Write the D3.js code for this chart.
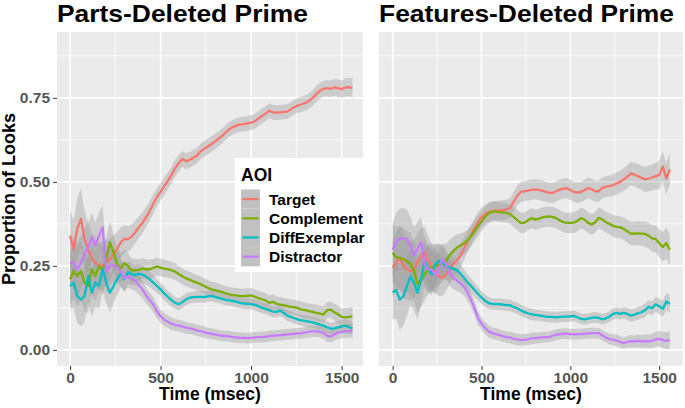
<!DOCTYPE html>
<html><head><meta charset="utf-8">
<script src="https://cdn.jsdelivr.net/npm/d3@7"></script>
<style>
body{margin:0;background:#fff}
svg{display:block;font-family:"Liberation Sans",Arial,Helvetica,sans-serif}
</style>
</head><body>
<svg id="chart" width="685" height="408"></svg>
<script>
// ---------- data ----------
const times = [0,20,40,60,80,100,120,140,160,180,
200,220,240,260,280,300,320,340,360,380,
400,420,440,460,480,500,520,540,560,580,
600,620,640,660,680,700,720,740,760,780,
800,820,840,860,880,900,920,940,960,980,
1000,1020,1040,1060,1080,1100,1120,1140,1160,1180,
1200,1220,1240,1260,1280,1300,1320,1340,1360,1380,
1400,1420,1440,1460,1480,1500,1520,1540,1560];

const aoiNames = ["Target","Complement","DiffExemplar","Distractor"];
const aoiColors = ["#F8766D","#7CAE00","#00BFC4","#C77CFF"];
const panelTitles = ["Parts-Deleted Prime","Features-Deleted Prime"];
const xTickValues = [0,500,1000,1500];
const xMinorValues = [250,750,1250];
const yTickValues = [0,0.25,0.5,0.75];
const yTickLabels = ["0.00","0.25","0.50","0.75"];
const yMinorValues = [0.125,0.375,0.625,0.875];

const partsTarget = [0.34,0.30,0.36,0.39,0.33,0.30,0.27,0.26,0.25,0.25,
0.26,0.27,0.285,0.30,0.32,0.33,0.33,0.337,0.35,0.365,
0.378,0.395,0.413,0.435,0.455,0.47,0.487,0.503,0.52,0.54,
0.555,0.568,0.562,0.565,0.572,0.578,0.59,0.598,0.605,0.612,
0.62,0.628,0.637,0.647,0.657,0.663,0.668,0.671,0.672,0.674,
0.676,0.68,0.688,0.696,0.703,0.712,0.707,0.706,0.707,0.708,
0.709,0.716,0.723,0.728,0.731,0.735,0.741,0.75,0.761,0.771,
0.777,0.779,0.777,0.781,0.779,0.776,0.781,0.782,0.78];
const partsComplement = [0.21,0.235,0.22,0.235,0.20,0.19,0.24,0.22,0.25,0.235,
0.27,0.32,0.29,0.255,0.243,0.258,0.25,0.236,0.237,0.238,
0.242,0.24,0.24,0.244,0.248,0.245,0.242,0.24,0.237,0.233,
0.226,0.219,0.213,0.209,0.204,0.2,0.196,0.19,0.185,0.18,
0.178,0.175,0.172,0.168,0.165,0.163,0.162,0.16,0.16,0.161,
0.162,0.158,0.154,0.15,0.147,0.14,0.143,0.137,0.135,0.133,
0.13,0.128,0.127,0.124,0.12,0.118,0.115,0.113,0.11,0.108,
0.105,0.118,0.12,0.112,0.106,0.098,0.097,0.098,0.1];
const partsDiffExemplar = [0.19,0.20,0.16,0.15,0.16,0.22,0.17,0.20,0.19,0.24,
0.20,0.17,0.19,0.21,0.228,0.21,0.232,0.225,0.222,0.227,
0.224,0.218,0.21,0.20,0.19,0.18,0.168,0.158,0.148,0.14,
0.136,0.142,0.15,0.155,0.157,0.158,0.158,0.157,0.159,0.161,
0.158,0.155,0.152,0.149,0.147,0.146,0.143,0.14,0.138,0.137,
0.136,0.134,0.13,0.125,0.122,0.118,0.114,0.113,0.117,0.11,
0.102,0.098,0.094,0.09,0.088,0.086,0.084,0.082,0.079,0.075,
0.072,0.067,0.063,0.064,0.067,0.07,0.072,0.068,0.064];
const partsDistractor = [0.26,0.26,0.238,0.26,0.285,0.305,0.335,0.31,0.34,0.365,
0.23,0.25,0.252,0.248,0.232,0.212,0.22,0.212,0.205,0.193,
0.18,0.162,0.148,0.135,0.115,0.10,0.09,0.084,0.078,0.074,
0.072,0.07,0.066,0.064,0.062,0.058,0.056,0.053,0.05,0.048,
0.046,0.044,0.042,0.041,0.04,0.038,0.037,0.036,0.036,0.035,
0.036,0.037,0.038,0.038,0.039,0.041,0.042,0.043,0.044,0.045,
0.046,0.047,0.048,0.049,0.05,0.052,0.054,0.055,0.055,0.054,
0.05,0.042,0.04,0.046,0.051,0.053,0.055,0.056,0.057];

const featTarget = [0.245,0.26,0.275,0.25,0.24,0.235,0.24,0.262,0.28,0.29,
0.265,0.245,0.235,0.22,0.215,0.225,0.24,0.255,0.265,0.28,
0.30,0.322,0.342,0.362,0.38,0.395,0.404,0.41,0.413,0.414,
0.415,0.416,0.418,0.422,0.44,0.458,0.47,0.472,0.474,0.476,
0.478,0.476,0.474,0.47,0.468,0.467,0.472,0.477,0.48,0.481,
0.476,0.47,0.468,0.47,0.476,0.482,0.478,0.472,0.472,0.482,
0.486,0.487,0.49,0.495,0.50,0.507,0.515,0.525,0.522,0.517,
0.512,0.507,0.51,0.513,0.517,0.52,0.546,0.51,0.538];
const featComplement = [0.288,0.276,0.273,0.27,0.263,0.256,0.235,0.195,0.21,0.225,
0.24,0.246,0.25,0.253,0.258,0.265,0.281,0.294,0.304,0.31,
0.317,0.325,0.337,0.353,0.368,0.382,0.396,0.406,0.411,0.412,
0.41,0.409,0.408,0.404,0.396,0.387,0.378,0.378,0.385,0.392,
0.388,0.39,0.394,0.396,0.397,0.396,0.392,0.386,0.38,0.378,
0.378,0.379,0.384,0.392,0.388,0.378,0.373,0.38,0.393,0.388,
0.38,0.375,0.369,0.366,0.365,0.36,0.353,0.346,0.346,0.347,
0.346,0.345,0.34,0.332,0.33,0.318,0.306,0.318,0.298];
const featDiffExemplar = [0.171,0.178,0.15,0.16,0.19,0.218,0.20,0.17,0.21,0.265,
0.24,0.225,0.255,0.265,0.258,0.25,0.245,0.242,0.238,0.228,
0.215,0.202,0.191,0.179,0.167,0.156,0.146,0.139,0.137,0.136,
0.136,0.135,0.133,0.133,0.128,0.124,0.118,0.113,0.109,0.106,
0.104,0.103,0.101,0.099,0.098,0.098,0.097,0.098,0.099,0.099,
0.10,0.101,0.097,0.092,0.091,0.093,0.095,0.097,0.095,0.091,
0.094,0.099,0.107,0.11,0.107,0.11,0.107,0.102,0.105,0.109,
0.112,0.118,0.128,0.124,0.136,0.13,0.122,0.144,0.137];
const featDistractor = [0.298,0.322,0.33,0.332,0.33,0.31,0.282,0.30,0.32,0.255,
0.238,0.24,0.222,0.24,0.27,0.255,0.23,0.215,0.207,0.198,
0.188,0.172,0.15,0.125,0.095,0.078,0.065,0.055,0.05,0.047,
0.044,0.041,0.038,0.037,0.033,0.031,0.03,0.03,0.031,0.034,
0.035,0.036,0.037,0.038,0.038,0.042,0.045,0.047,0.048,0.048,
0.047,0.046,0.047,0.047,0.048,0.049,0.05,0.05,0.05,0.043,
0.037,0.032,0.03,0.028,0.024,0.02,0.024,0.026,0.025,0.027,
0.025,0.026,0.025,0.027,0.031,0.033,0.03,0.027,0.03];

// confidence half-widths (Target/Complement share A, DiffExemplar/Distractor share B)
const partsCiA = [0.075,0.085,0.09,0.09,0.085,0.08,0.078,0.075,0.072,0.07,
0.066,0.062,0.056,0.05,0.045,0.041,0.038,0.036,0.034,0.032,
0.031,0.03,0.029,0.028,0.027,0.026,0.026,0.025,0.025,0.025,
0.024,0.024,0.024,0.024,0.023,0.023,0.023,0.023,0.023,0.023,
0.023,0.022,0.022,0.022,0.022,0.022,0.022,0.022,0.022,0.022,
0.022,0.022,0.022,0.022,0.022,0.022,0.022,0.022,0.022,0.022,
0.022,0.022,0.022,0.022,0.023,0.023,0.023,0.023,0.024,0.024,
0.024,0.024,0.025,0.025,0.026,0.026,0.027,0.027,0.028];
const partsCiB = [0.07,0.075,0.08,0.08,0.078,0.075,0.072,0.07,0.068,0.066,
0.062,0.058,0.052,0.047,0.042,0.038,0.035,0.032,0.03,0.028,
0.026,0.024,0.023,0.022,0.021,0.02,0.02,0.019,0.019,0.018,
0.018,0.018,0.018,0.017,0.017,0.017,0.017,0.017,0.016,0.016,
0.016,0.016,0.016,0.016,0.016,0.016,0.016,0.016,0.016,0.016,
0.016,0.016,0.016,0.016,0.016,0.016,0.016,0.016,0.016,0.016,
0.016,0.016,0.016,0.016,0.016,0.017,0.017,0.017,0.017,0.017,
0.018,0.018,0.018,0.019,0.019,0.019,0.02,0.02,0.02];
const featCiA = [0.085,0.09,0.095,0.095,0.09,0.09,0.088,0.085,0.082,0.078,
0.074,0.07,0.065,0.06,0.055,0.05,0.046,0.042,0.039,0.036,
0.034,0.032,0.031,0.03,0.03,0.029,0.029,0.029,0.029,0.029,
0.029,0.029,0.029,0.029,0.03,0.03,0.03,0.03,0.03,0.03,
0.03,0.03,0.03,0.03,0.03,0.03,0.03,0.03,0.03,0.03,
0.03,0.031,0.031,0.031,0.031,0.031,0.031,0.031,0.031,0.031,
0.031,0.032,0.032,0.033,0.033,0.034,0.034,0.035,0.035,0.036,
0.036,0.037,0.038,0.039,0.04,0.042,0.044,0.046,0.048];
const featCiB = [0.08,0.085,0.09,0.09,0.088,0.085,0.082,0.08,0.076,0.072,
0.068,0.063,0.058,0.052,0.047,0.042,0.038,0.034,0.031,0.028,
0.026,0.024,0.022,0.021,0.02,0.019,0.018,0.018,0.017,0.017,
0.017,0.017,0.017,0.017,0.017,0.017,0.017,0.017,0.017,0.017,
0.017,0.016,0.016,0.016,0.016,0.016,0.016,0.016,0.016,0.016,
0.016,0.016,0.016,0.016,0.016,0.016,0.016,0.016,0.016,0.016,
0.016,0.016,0.017,0.017,0.017,0.017,0.018,0.018,0.018,0.019,
0.019,0.02,0.02,0.021,0.022,0.023,0.024,0.025,0.027];

// ---------- drawing ----------
const svg = d3.select("#chart");
const panelTop = 32, panelBottom = 366;
const y = d3.scaleLinear().domain([-0.048, 0.946]).range([panelBottom, panelTop]);
const ribbonFill = "#999999", ribbonOpacity = 0.38;

const panels = [
  {title: panelTitles[0], left: 57, right: 363, domain: [-72, 1618], showY: true, titleW: 251,
   series: [partsTarget, partsComplement, partsDiffExemplar, partsDistractor],
   ci: [partsCiA, partsCiA, partsCiB, partsCiB]},
  {title: panelTitles[1], left: 379, right: 683, domain: [-77, 1634], showY: false, titleW: 295,
   series: [featTarget, featComplement, featDiffExemplar, featDistractor],
   ci: [featCiA, featCiA, featCiB, featCiB]}
];

panels.forEach(p => {
  const x = d3.scaleLinear().domain(p.domain).range([p.left, p.right]);
  const g = svg.append("g");
  g.append("rect").attr("x", p.left).attr("y", panelTop)
    .attr("width", p.right - p.left).attr("height", panelBottom - panelTop).attr("fill", "#EBEBEB");

  // grid
  g.selectAll(".vmin").data(xMinorValues).enter().append("line")
    .attr("x1", d => x(d)).attr("x2", d => x(d)).attr("y1", panelTop).attr("y2", panelBottom)
    .attr("stroke", "#fff").attr("stroke-width", 0.8);
  g.selectAll(".hmin").data(yMinorValues).enter().append("line")
    .attr("x1", p.left).attr("x2", p.right).attr("y1", d => y(d)).attr("y2", d => y(d))
    .attr("stroke", "#fff").attr("stroke-width", 0.8);
  g.selectAll(".vmaj").data(xTickValues).enter().append("line")
    .attr("x1", d => x(d)).attr("x2", d => x(d)).attr("y1", panelTop).attr("y2", panelBottom)
    .attr("stroke", "#fff").attr("stroke-width", 1.6);
  g.selectAll(".hmaj").data(yTickValues).enter().append("line")
    .attr("x1", p.left).attr("x2", p.right).attr("y1", d => y(d)).attr("y2", d => y(d))
    .attr("stroke", "#fff").attr("stroke-width", 1.6);

  // ribbons
  p.series.forEach((vals, i) => {
    const area = d3.area()
      .x((d, j) => x(times[j]))
      .y0((d, j) => y(vals[j] - p.ci[i][j]))
      .y1((d, j) => y(vals[j] + p.ci[i][j]));
    g.append("path").datum(vals).attr("d", area)
      .attr("fill", ribbonFill).attr("fill-opacity", ribbonOpacity);
  });
  // lines
  p.series.forEach((vals, i) => {
    const line = d3.line().x((d, j) => x(times[j])).y(d => y(d));
    g.append("path").datum(vals).attr("d", line)
      .attr("fill", "none").attr("stroke", aoiColors[i]).attr("stroke-width", 2.3)
      .attr("stroke-linejoin", "round");
  });

  // x axis
  const xAxis = d3.axisBottom(x).tickValues(xTickValues).tickSize(4).tickPadding(2)
    .tickFormat(d3.format("d"));
  const xg = g.append("g").attr("transform", `translate(0,${panelBottom})`).call(xAxis);
  xg.select(".domain").remove();
  xg.selectAll("line").attr("stroke", "#333").attr("stroke-width", 1);
  xg.selectAll("text").attr("fill", "#555").attr("font-size", 15.5).attr("font-weight", "bold")
    .attr("font-family", "Liberation Sans, Arial, sans-serif");

  if (p.showY) {
    const yAxis = d3.axisLeft(y).tickValues(yTickValues).tickSize(4).tickPadding(3)
      .tickFormat((d, i) => yTickLabels[i]);
    const yg = g.append("g").attr("transform", `translate(${p.left},0)`).call(yAxis);
    yg.select(".domain").remove();
    yg.selectAll("line").attr("stroke", "#333").attr("stroke-width", 1);
    yg.selectAll("text").attr("fill", "#555").attr("font-size", 15.5).attr("font-weight", "bold")
      .attr("font-family", "Liberation Sans, Arial, sans-serif");
  }

  // x title
  g.append("text").attr("x", (p.left + p.right) / 2).attr("y", 400)
    .attr("text-anchor", "middle").attr("font-size", 17.5).attr("font-weight", "bold")
    .attr("fill", "#000").text("Time (msec)");

  // panel title
  g.append("text").attr("x", p.left).attr("y", 21.5).attr("font-size", 24.5).attr("font-weight", "bold")
    .attr("fill", "#000").text(p.title)
    .attr("textLength", p.titleW).attr("lengthAdjust", "spacingAndGlyphs");
});

// y title
svg.append("text").attr("transform", "translate(15,199) rotate(-90)")
  .attr("text-anchor", "middle").attr("font-size", 18).attr("font-weight", "bold")
  .attr("fill", "#000").text("Proportion of Looks");

// legend
const lg = svg.append("g");
lg.append("rect").attr("x", 235).attr("y", 158).attr("width", 129).attr("height", 114).attr("fill", "#fff");
lg.append("text").attr("x", 241).attr("y", 180.5).attr("font-size", 17.5).attr("font-weight", "bold")
  .attr("fill", "#000").text("AOI");
const keyH = 19.2, keyTop = 189.5;
aoiNames.forEach((name, i) => {
  const ky = keyTop + i * keyH;
  lg.append("rect").attr("x", 241).attr("y", ky).attr("width", 19).attr("height", keyH).attr("fill", "#F2F2F2");
  lg.append("rect").attr("x", 241).attr("y", ky).attr("width", 19).attr("height", keyH)
    .attr("fill", ribbonFill).attr("fill-opacity", 0.55);
  lg.append("line").attr("x1", 242.5).attr("x2", 258.5).attr("y1", ky + keyH / 2).attr("y2", ky + keyH / 2)
    .attr("stroke", aoiColors[i]).attr("stroke-width", 2.3);
  lg.append("text").attr("x", 269).attr("y", ky + keyH / 2 + 5.5).attr("font-size", 15.5)
    .attr("font-weight", "bold").attr("fill", "#000").text(name);
});
</script>
</body></html>
